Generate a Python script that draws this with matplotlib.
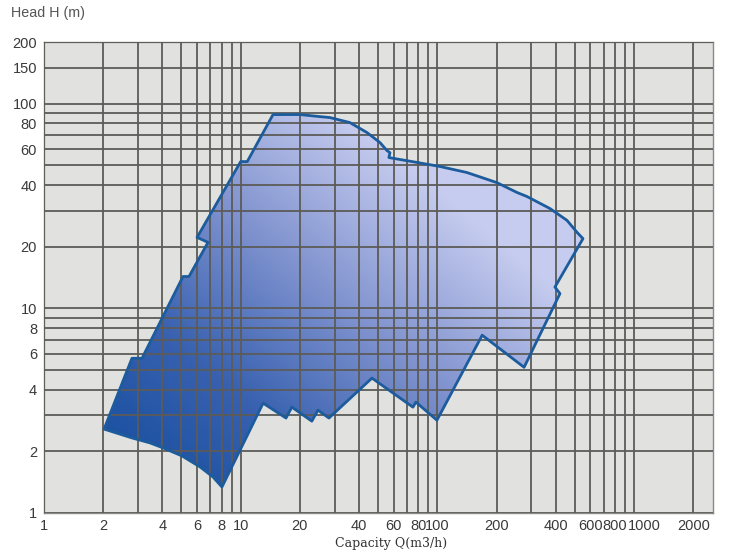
import numpy as np
import matplotlib
matplotlib.use('Agg')
import matplotlib.pyplot as plt
from matplotlib.patches import Polygon
from matplotlib.colors import LinearSegmentedColormap
from matplotlib.transforms import ScaledTranslation

# outline of the operating range, clockwise from the lower-left corner
flow = [2.02, 2.80, 3.15, 5.09, 5.46, 6.82, 6.0, 10.0, 10.8, 14.6,
        20.0, 25.3, 28.4, 35.9, 43.9, 51.1, 55.4, 57.4, 56.7,
        78.8, 103, 141, 201, 254, 285, 374, 456, 513, 550,
        396, 420, 276, 169, 99.5, 77.8, 75.1, 46.5, 28.1, 24.7,
        23.0, 18.2, 17.0, 13.0, 8.03,
        7.23, 6.21, 5.03, 4.03, 3.46, 2.83]
head = [2.57, 5.70, 5.70, 14.3, 14.3, 21.0, 22.2, 52.1, 52.1, 88.4,
        88.4, 86.4, 85.5, 80.8, 72.2, 64.5, 59.0, 57.6, 54.5,
        51.6, 49.3, 46.1, 41.1, 36.8, 35.2, 30.7, 26.9, 23.5, 21.9,
        12.7, 11.8, 5.15, 7.39, 2.84, 3.48, 3.29, 4.56, 2.91, 3.18,
        2.81, 3.29, 2.91, 3.44, 1.34,
        1.50, 1.68, 1.90, 2.08, 2.20, 2.32]

x_grid = [1, 2, 3, 4, 5, 6, 7, 8, 9, 10, 20, 30, 40, 50, 60, 70, 80, 90,
          100, 200, 300, 400, 500, 600, 700, 800, 900, 1000, 2000]
x_ticks = [1, 2, 4, 6, 8, 10, 20, 40, 60, 80, 100, 200, 400, 600, 800, 1000, 2000]
y_grid = [1, 2, 3, 4, 5, 6, 7, 8, 9, 10, 20, 30, 40, 50, 60, 70, 80, 90,
          100, 150, 200]
y_ticks = [1, 2, 4, 6, 8, 10, 20, 40, 60, 80, 100, 150, 200]

fig = plt.figure(figsize=(7.4, 5.59), dpi=100)
ax = fig.add_axes([44 / 740, 1 - 513 / 559, (713 - 44) / 740, (513 - 42) / 559])
ax.set_xscale('log')
ax.set_yscale('log')
ax.set_xlim(1, 2520)
ax.set_ylim(1, 200)
ax.set_facecolor('#e1e1df')

# gradient fill clipped to the outline, dark lower left -> pale right
cmap = LinearSegmentedColormap.from_list('blu', ['#164e9e', '#3861b0', '#8395d0', '#c6ccef'])
gx, gy = np.meshgrid(np.linspace(0, 1, 300), np.linspace(0, 1, 300))
t = (gx - 0.1) * 0.95 + (gy - 0.08) * 0.8
t = np.clip(t / 0.95, 0, 1)
img = ax.imshow(t, extent=[0, 1, 0, 1], origin='lower', transform=ax.transAxes,
                cmap=cmap, aspect='auto', zorder=1, interpolation='bilinear')
poly = Polygon(list(zip(flow, head)), closed=True, facecolor='none',
               edgecolor='#1d5c9c', linewidth=2, joinstyle='round', zorder=4)
ax.add_patch(poly)
clip = Polygon(list(zip(flow, head)), closed=True, transform=ax.transData)
img.set_clip_path(clip)

for v in x_grid:
    ax.axvline(v, color='#5c5b58', linewidth=1.3, zorder=3)
for v in y_grid:
    ax.axhline(v, color='#5c5b58', linewidth=1.3, zorder=3)

ax.set_xticks(x_ticks)
ax.set_xticklabels([str(v) for v in x_ticks])
ax.set_yticks(y_ticks)
ax.set_yticklabels([str(v) for v in y_ticks])
ax.minorticks_off()
ax.tick_params(length=0, labelsize=10.5, labelcolor='#3a3a3a', pad=5)
ax.tick_params(axis='x', pad=4)
for lab in ax.get_xticklabels() + ax.get_yticklabels():
    lab.set_family('Liberation Sans')
# the 1000 label sits a little right of its line in the original
xl = ax.get_xticklabels()
xl[x_ticks.index(1000)].set_transform(
    xl[x_ticks.index(1000)].get_transform() + ScaledTranslation(10 / 100, 0, fig.dpi_scale_trans))
for s in ax.spines.values():
    s.set_color('#8a8a88')
    s.set_linewidth(1)

fig.text(11 / 740, 1 - 13 / 559, 'Head H (m)', fontsize=10.3, color='#555555',
         family='Liberation Sans', va='center', ha='left')
fig.text(391 / 740, 1 - 544 / 559, 'Capacity Q(m3/h)', fontsize=9, color='#333333',
         family='DejaVu Serif', va='center', ha='center')

fig.savefig('out.png', dpi=100)
